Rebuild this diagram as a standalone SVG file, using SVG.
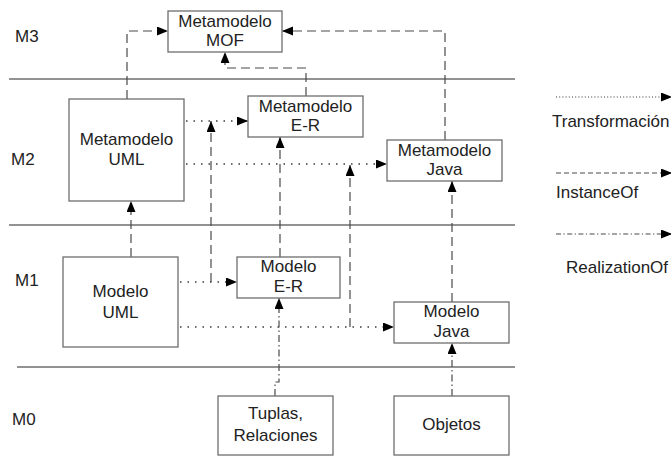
<svg xmlns="http://www.w3.org/2000/svg" width="671" height="460" viewBox="0 0 671 460">
  <style>
    .box { fill: #ffffff; stroke: #6e6e6e; stroke-width: 1.3; }
    .lbl { font-family: "Liberation Sans", Arial, sans-serif; font-size: 17px; fill: #222222; text-anchor: middle; }
    .lvl { font-family: "Liberation Sans", Arial, sans-serif; font-size: 17px; fill: #222222; }
    .layer { stroke: #6e6e6e; stroke-width: 1.3; fill: none; }
    .inst { stroke: #4a4a4a; stroke-width: 1.2; fill: none; stroke-dasharray: 9 5; marker-end: url(#arr); }
    .trans { stroke: #3a3a3a; stroke-width: 1.6; fill: none; stroke-dasharray: 1.5 6; marker-end: url(#arr); }
    .real { stroke: #4a4a4a; stroke-width: 1.2; fill: none; stroke-dasharray: 7 3 1.5 3; marker-end: url(#arr); }
    .key-trans { stroke-dasharray: 1 2.2; stroke-width: 1.1; }
    .key-inst { stroke-dasharray: 5 3; }
    .key-real { stroke-dasharray: 5 2.5 1.2 2.5; }
  </style>
  <defs>
    <marker id="arr" markerUnits="userSpaceOnUse" markerWidth="12" markerHeight="10" refX="11" refY="4.5" orient="auto">
      <path d="M0,0 L11,4.5 L0,9 Z" fill="#000"/>
    </marker>
  </defs>
  <rect width="671" height="460" fill="#ffffff"/>

  <!-- layer separators -->
  <g id="layers">
    <line class="layer" x1="9" y1="79" x2="515" y2="79"/>
    <line class="layer" x1="9" y1="225" x2="515" y2="225"/>
    <line class="layer" x1="17" y1="367" x2="515" y2="367"/>
    <text class="lvl" x="15" y="42">M3</text>
    <text class="lvl" x="11" y="165">M2</text>
    <text class="lvl" x="15" y="286">M1</text>
    <text class="lvl" x="12" y="425">M0</text>
  </g>

  <!-- connectors -->
  <g id="connectors">
    <!-- InstanceOf -->
    <path class="inst" d="M127,99 V31 H168"/>
    <path class="inst" d="M306,96 V68 H225 V52"/>
    <path class="inst" d="M445,140 V31 H282"/>
    <path class="inst" d="M131,257 V201"/>
    <path class="inst" d="M280,257 V137"/>
    <path class="inst" d="M452,302 V181"/>
    <path class="inst" d="M211,282 V121"/>
    <path class="inst" d="M350,327 V165"/>
    <!-- Transformación -->
    <path class="trans" d="M186,121 H248"/>
    <path class="trans" d="M186,164 H387"/>
    <path class="trans" d="M180,282 H237"/>
    <path class="trans" d="M180,327 H394"/>
    <!-- RealizationOf -->
    <path class="real" d="M275,396 V382 H279 V298"/>
    <path class="real" d="M452,396 V343"/>
  </g>

  <g id="mof">
    <rect class="box" x="168" y="11" width="114" height="41"/>
    <text class="lbl" x="225" y="27">Metamodelo</text>
    <text class="lbl" x="225" y="46">MOF</text>
  </g>
  <g id="metamodelo-uml">
    <rect class="box" x="69" y="99" width="115" height="102"/>
    <text class="lbl" x="126.5" y="145">Metamodelo</text>
    <text class="lbl" x="126.5" y="165">UML</text>
  </g>
  <g id="metamodelo-er">
    <rect class="box" x="248" y="96" width="115" height="41"/>
    <text class="lbl" x="305.5" y="112">Metamodelo</text>
    <text class="lbl" x="305.5" y="131">E-R</text>
  </g>
  <g id="metamodelo-java">
    <rect class="box" x="387" y="140" width="115" height="41"/>
    <text class="lbl" x="444.5" y="156">Metamodelo</text>
    <text class="lbl" x="444.5" y="175">Java</text>
  </g>
  <g id="modelo-uml">
    <rect class="box" x="63" y="257" width="115" height="90"/>
    <text class="lbl" x="120.5" y="297">Modelo</text>
    <text class="lbl" x="120.5" y="318">UML</text>
  </g>
  <g id="modelo-er">
    <rect class="box" x="237" y="257" width="103" height="41"/>
    <text class="lbl" x="288.5" y="272">Modelo</text>
    <text class="lbl" x="288.5" y="292">E-R</text>
  </g>
  <g id="modelo-java">
    <rect class="box" x="394" y="302" width="115" height="41"/>
    <text class="lbl" x="451.5" y="317">Modelo</text>
    <text class="lbl" x="451.5" y="337">Java</text>
  </g>
  <g id="tuplas">
    <rect class="box" x="218" y="396" width="115" height="59"/>
    <text class="lbl" x="275.5" y="419">Tuplas,</text>
    <text class="lbl" x="275.5" y="441">Relaciones</text>
  </g>
  <g id="objetos">
    <rect class="box" x="394" y="396" width="115" height="59"/>
    <text class="lbl" x="451.5" y="430">Objetos</text>
  </g>

  <!-- legend -->
  <g id="legend">
    <path class="trans key-trans" d="M556,97 H672"/>
    <text class="lvl" x="552" y="127">Transformación</text>
    <path class="inst key-inst" d="M556,173 H672"/>
    <text class="lvl" x="556" y="198">InstanceOf</text>
    <path class="real key-real" d="M556,234 H672"/>
    <text class="lvl" x="566" y="273">RealizationOf</text>
  </g>
</svg>
